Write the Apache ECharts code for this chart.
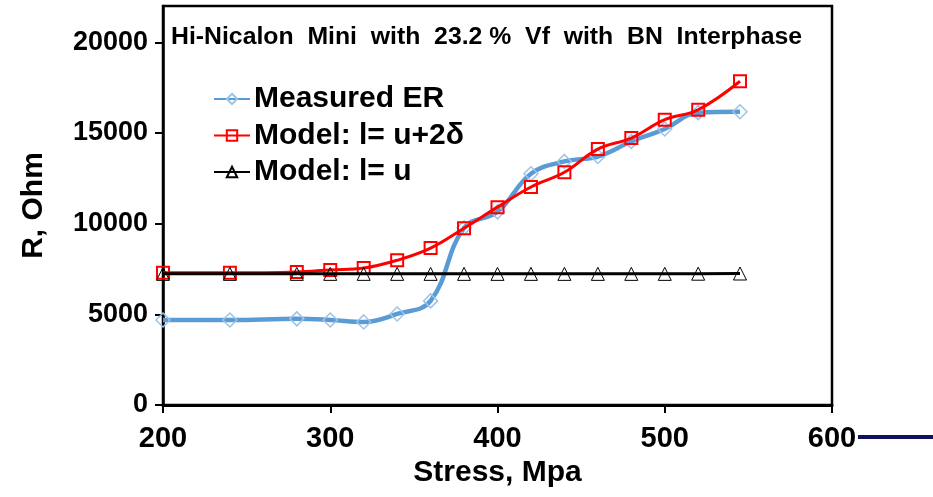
<!DOCTYPE html>
<html>
<head>
<meta charset="utf-8">
<script src="https://cdn.jsdelivr.net/npm/echarts@6/dist/echarts.min.js"></script>
<style>
html,body{margin:0;padding:0;background:#fff;}
#chart{width:933px;height:497px;}
</style>
</head>
<body>
<div id="chart"></div>
<script>
const stress = [200, 240, 280, 300, 320, 340, 360, 380, 400, 420, 440, 460, 480, 500, 520, 545];
const measuredER = [4690, 4690, 4750, 4690, 4580, 5020, 5740, 9770, 10650, 12750, 13430, 13700, 14530, 15220, 16120, 16170];
const modelU2d = [7290, 7290, 7340, 7450, 7550, 7980, 8650, 9750, 10910, 12020, 12830, 14110, 14720, 15730, 16280, 17850];
const modelU = [7230, 7230, 7230, 7230, 7230, 7230, 7230, 7230, 7230, 7230, 7230, 7230, 7230, 7230, 7240, 7250];
const yTicks = [0, 5000, 10000, 15000, 20000];
const xTicks = [200, 300, 400, 500, 600];
const titleText = 'Hi-Nicalon  Mini  with  23.2 %  Vf  with  BN  Interphase';
const seriesNames = ['Measured ER', 'Model: l= u+2\u03b4', 'Model: l= u'];

const pair = (ys) => stress.map((x, i) => [x, ys[i]]);
const chart = echarts.init(document.getElementById('chart'), null, {renderer: 'canvas'});
const fontFam = 'Liberation Sans, Arial, sans-serif';
const narrowFam = 'Liberation Sans Narrow, Arial Narrow, Liberation Sans, sans-serif';
chart.setOption({
  animation: false,
  backgroundColor: '#fff',
  grid: {left: 163, right: 101, top: 6, bottom: 92, show: true, borderColor: '#000', borderWidth: 2.5, backgroundColor: 'transparent'},
  title: {
    text: titleText, left: 171, top: 25, padding: 0,
    textStyle: {fontFamily: narrowFam, fontWeight: 'bold', fontSize: 24.8, color: '#000'}
  },
  legend: {
    orient: 'vertical', left: 213, top: 84, padding: 0, itemGap: 6.5,
    itemWidth: 36, itemHeight: 13,
    textStyle: {fontFamily: fontFam, fontWeight: 'bold', fontSize: 30, lineHeight: 30, color: '#000', padding: [0,0,0,-1]},
    data: seriesNames
  },
  xAxis: {
    type: 'value', min: 200, max: 600, interval: 100,
    name: 'Stress, Mpa', nameLocation: 'middle', nameGap: 46,
    nameTextStyle: {fontFamily: fontFam, fontWeight: 'bold', fontSize: 30, color: '#000'},
    axisLine: {show: true, onZero: false, lineStyle: {color: '#000', width: 3}},
    axisTick: {show: true, length: 8, lineStyle: {color: '#000', width: 2}, customValues: xTicks},
    axisLabel: {margin: 19, fontFamily: fontFam, fontWeight: 'bold', fontSize: 29, color: '#000', customValues: xTicks},
    splitLine: {show: false}
  },
  yAxis: {
    type: 'value', min: 0, max: 22000, interval: 5000,
    name: 'R, Ohm', nameLocation: 'middle', nameGap: 114, nameRotate: 90,
    nameTextStyle: {fontFamily: fontFam, fontWeight: 'bold', fontSize: 30, color: '#000'},
    axisLine: {show: true, onZero: false, lineStyle: {color: '#000', width: 2.5}},
    axisTick: {show: true, length: 8, lineStyle: {color: '#000', width: 2}, customValues: yTicks},
    axisLabel: {margin: 15, fontFamily: narrowFam, fontWeight: 'bold', fontSize: 27, color: '#000', customValues: yTicks,
      formatter: (v) => String(v)},
    splitLine: {show: false}
  },
  series: [
    {
      name: seriesNames[0], type: 'line', data: pair(measuredER), smooth: 0.4,
      symbol: 'diamond', symbolSize: 14,
      lineStyle: {color: '#5b9bd5', width: 4.5},
      itemStyle: {color: 'rgba(255,255,255,0)', borderColor: '#9dc3e6', borderWidth: 1.5},
      z: 2
    },
    {
      name: seriesNames[1], type: 'line', data: pair(modelU2d), smooth: 0.4,
      symbol: 'rect', symbolSize: 12,
      lineStyle: {color: '#ff0000', width: 3},
      itemStyle: {color: 'rgba(255,255,255,0)', borderColor: '#ff0000', borderWidth: 2},
      z: 3
    },
    {
      name: seriesNames[2], type: 'line', data: pair(modelU),
      symbol: 'triangle', symbolSize: 13,
      lineStyle: {color: '#000', width: 3},
      itemStyle: {color: 'rgba(255,255,255,0)', borderColor: '#000', borderWidth: 1},
      z: 4
    }
  ],
  graphic: [
    {type: 'line', shape: {x1: 858, y1: 437, x2: 933, y2: 437}, style: {stroke: '#101060', lineWidth: 4}}
  ]
});
</script>
</body>
</html>
